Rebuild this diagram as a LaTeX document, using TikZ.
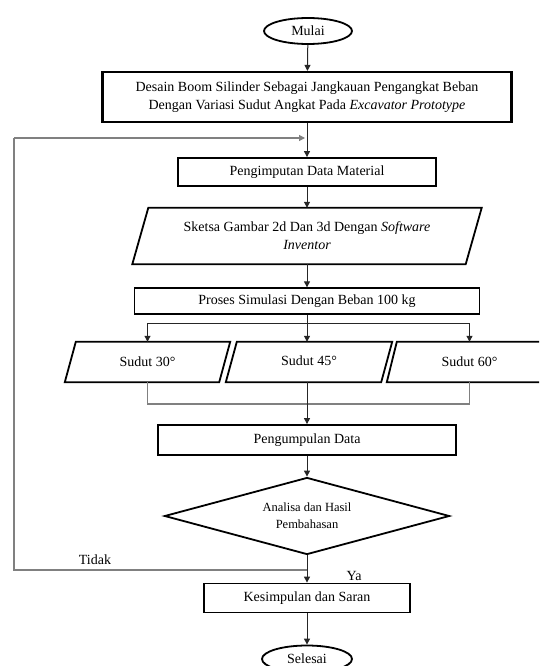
\documentclass[tikz,border=0pt]{standalone}
\usepackage{fontspec}
\setmainfont{Liberation Serif}
\usetikzlibrary{shapes.geometric,arrows.meta,calc}
\newcommand\mypara[2]{\draw[line width=1.8pt] ([xshift=#2]#1.north west) -- (#1.north east) -- ([xshift=-#2]#1.south east) -- (#1.south west) -- cycle;}
\begin{document}
\begin{tikzpicture}[x=1pt,y=-1pt,
  every node/.style={font=\fontsize{14}{18}\selectfont, align=center, inner sep=0pt},
  boxa/.style={draw, line width=1.8pt, rectangle},
  termin/.style={draw, ellipse, line width=1.8pt},
  conn/.style={draw=black!85, line width=1pt},
  arr/.style={conn, -{Triangle[length=6pt,width=6pt]}},
  grayl/.style={draw=black!50, line width=1.2pt},
  grayarr/.style={grayl, -{Triangle[length=6pt,width=6pt]}}]
\useasboundingbox (0,0) rectangle (539,666);
\clip (0,0) rectangle (539,666);

\node[termin, minimum width=88pt, minimum height=26pt] (mulai) at (308,31) {Mulai};
\node[boxa, line width=2.2pt, minimum width=409pt, minimum height=50pt] (desain) at (307,97) {Desain Boom Silinder Sebagai Jangkauan Pengangkat Beban\\Dengan Variasi Sudut Angkat Pada \textit{Excavator Prototype}};
\node[boxa, minimum width=258pt, minimum height=28pt] (input) at (307,172) {Pengimputan Data Material};
\node[minimum width=349pt, minimum height=56pt] (sketsa) at (307,236) {Sketsa Gambar 2d Dan 3d Dengan \textit{Software}\\\textit{Inventor}};
\mypara{sketsa}{16pt}
\node[draw, line width=1.3pt, minimum width=345pt, minimum height=26pt] (proses) at (307,301) {Proses Simulasi Dengan Beban 100 kg};

\node[minimum width=165pt, minimum height=40pt] (s30) at (147.5,362) {Sudut 30°};
\mypara{s30}{11pt}
\node[minimum width=166pt, minimum height=40pt] (s45) at (309,362) {\raisebox{3pt}{Sudut 45°}};
\mypara{s45}{11pt}
\node[minimum width=165pt, minimum height=40pt] (s60) at (469.5,362) {Sudut 60°};
\mypara{s60}{10pt}

\node[boxa, minimum width=298pt, minimum height=30pt] (kumpul) at (307,440) {Pengumpulan Data};
\node[draw, diamond, line width=1.8pt, aspect=3.7, minimum width=285pt, minimum height=77pt, font=\fontsize{12.5}{17}\selectfont] (analisa) at (307,516) {Analisa dan Hasil\\Pembahasan};
\node[boxa, minimum width=206pt, minimum height=29pt] (kesim) at (307,598) {Kesimpulan dan Saran};
\node[termin, minimum width=90pt, minimum height=27pt] (selesai) at (307,659) {Selesai};

\node (tidak) at (95,560) {Tidak};
\node (ya) at (354,576) {Ya};

\coordinate (ltop) at (305,138);
\coordinate (lbot) at (307,570);
\coordinate (cl1) at (14,570);
\coordinate (cl2) at (14,138);
\coordinate (br) at (307,323);
\coordinate (mg) at (307,404);

\draw[arr] (mulai) -- (desain);
\draw[arr] (desain) -- (input);
\draw[arr] (input) -- (sketsa.north);
\draw[arr] (sketsa.south) -- (proses);
\draw[conn] (proses) -- (br);
\draw[arr] (br) -| (s30.north);
\draw[arr] (br) -- (br |- s45.north);
\draw[arr] (br) -| (s60.north);
\draw[grayl] (s30.south) |- (mg) -| (s60.south);
\draw[arr] (s45.south -| mg) -- (kumpul);
\draw[arr] (kumpul) -- (analisa);
\draw[conn] (analisa) -- (lbot);
\draw[arr] (lbot) -- (kesim);
\draw[arr] (kesim) -- (selesai);
\draw[grayl] (lbot) -- (cl1) -- (cl2);
\draw[grayarr] (cl2) -- (ltop);
\end{tikzpicture}
\end{document}
